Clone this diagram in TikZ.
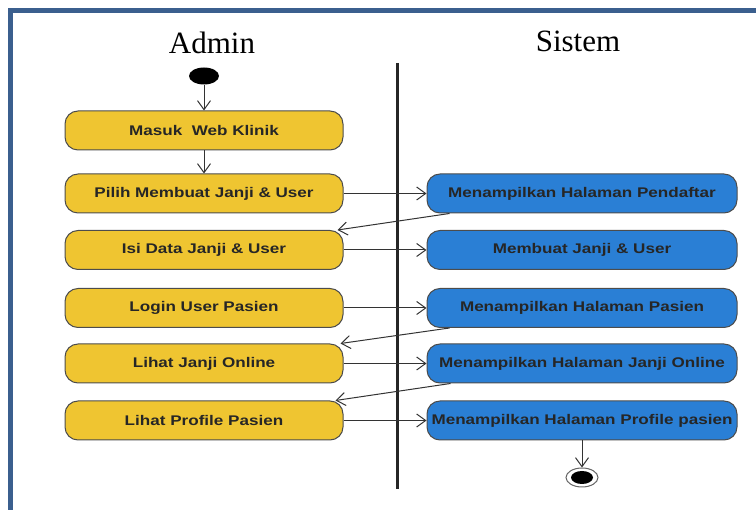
\documentclass[tikz,border=0pt]{standalone}
\usepackage{fontspec}
\setmainfont{Liberation Serif}
\newfontfamily\boxfont[FakeStretch=1.22]{Liberation Sans}
\usetikzlibrary{arrows.meta,shapes.geometric}
\definecolor{ylw}{HTML}{EFC531}
\definecolor{blu}{HTML}{2A7FD5}
\definecolor{framec}{HTML}{3B5F8E}
\begin{document}
\begin{tikzpicture}[x=1pt,y=-1pt,
 act/.style={draw=black!70, line width=1pt, rounded corners=13pt, minimum height=39pt, inner sep=0pt, font=\boxfont\bfseries\fontsize{14}{16}\selectfont, text=black!85},
 yact/.style={act, fill=ylw, minimum width=278pt},
 bact/.style={act, fill=blu, minimum width=310pt},
 flow/.style={draw=black!80, line width=1pt, -{Straight Barb[length=9pt,width=13pt,line width=1pt]}},
 lanetitle/.style={font=\fontsize{31}{36}\selectfont, inner sep=0pt},
]
\useasboundingbox (0,0) rectangle (756,510);
\clip (0,0) rectangle (756,510);
\draw[framec, line width=5pt] (10.8,10.8) rectangle (900,700);

\node[lanetitle] (tadmin) at (212,43) {Admin};
\node[lanetitle] (tsistem) at (578,41) {Sistem};
\draw[black!85, line width=3pt] (397,63) coordinate (lanetop) -- (397,489) coordinate (lanebot);

\node[ellipse, fill=black, minimum width=30pt, minimum height=17pt, inner sep=0pt] (start) at (204,76) {};

\node[yact] (y1) at (204,130.5) {Masuk\ \ Web Klinik};
\node[yact] (y2) at (204,193.5) {Pilih Membuat Janji \& User};
\node[yact] (y3) at (204,250) {Isi Data Janji \& User};
\node[yact] (y4) at (204,308) {Login User Pasien};
\node[yact] (y5) at (204,363.5) {Lihat Janji Online};
\node[yact] (y6) at (204,420.5) {Lihat Profile Pasien};

\node[bact] (b1) at (582,193.5) {Menampilkan Halaman Pendaftar};
\node[bact] (b2) at (582,250) {Membuat Janji \& User};
\node[bact] (b3) at (582,308) {Menampilkan Halaman Pasien};
\node[bact] (b4) at (582,363.5) {Menampilkan Halaman Janji Online};
\node[bact] (b5) at (582,420.5) {Menampilkan Halaman Profile pasien};

\node[ellipse, draw=black!60, line width=1pt, fill=white, minimum width=32pt, minimum height=19pt, inner sep=0pt] (end) at (582,477.5) {};
\node[ellipse, fill=black, minimum width=22pt, minimum height=13pt, inner sep=0pt] (endin) at (end.center) {};

\draw[flow] (start) -- (y1);
\draw[flow] (y1) -- (y2);
\draw[flow] (y2) -- (b1);
\draw[flow] ([xshift=23pt]b1.south west) -- ([xshift=-6pt]y3.north east);
\draw[flow] (y3) -- (b2);
\draw[flow] (y4) -- (b3);
\draw[flow] ([xshift=23pt]b3.south west) -- ([xshift=-3pt]y5.north east);
\draw[flow] (y5) -- (b4);
\draw[flow] ([xshift=24pt]b4.south west) -- ([xshift=-8pt]y6.north east);
\draw[flow] (y6) -- (b5);
\draw[flow] (b5) -- (end);
\end{tikzpicture}
\end{document}
